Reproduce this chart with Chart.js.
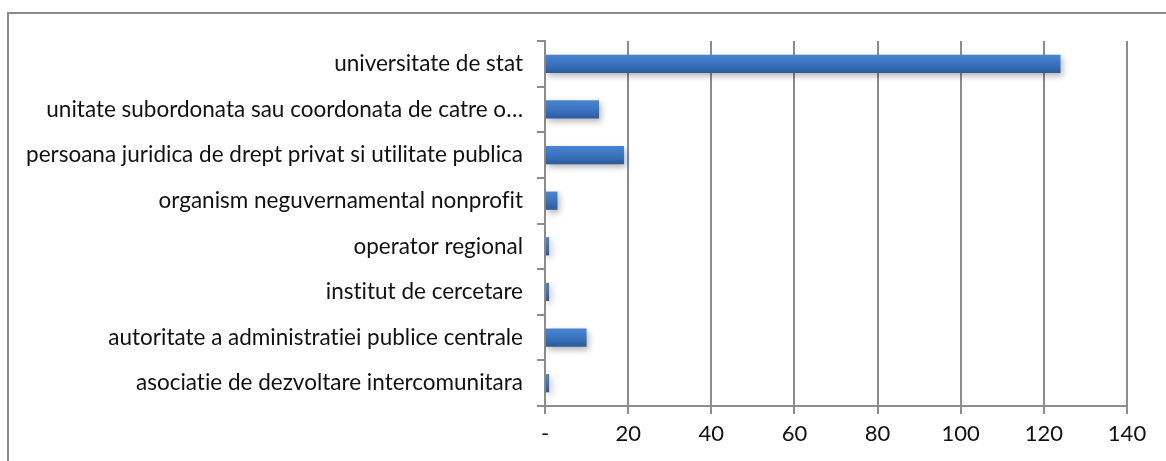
<!DOCTYPE html>
<html>
<head>
<meta charset="utf-8">
<script src="https://cdn.jsdelivr.net/npm/chart.js@4/dist/chart.umd.min.js"></script>
<style>
html,body{margin:0;padding:0;background:#fff;}
#wrap{position:relative;width:1166px;height:461px;overflow:hidden;}
#frame{position:absolute;left:7px;top:12px;width:1200px;height:500px;border-left:2px solid #8a8a8a;border-top:2px solid #8a8a8a;box-sizing:border-box;}
canvas{position:absolute;left:0;top:0;}
</style>
</head>
<body>
<div id="wrap">
<div id="frame"></div>
<canvas id="c" width="1166" height="461"></canvas>
</div>
<script>
const categories = [
  "universitate de stat",
  "unitate subordonata sau coordonata de catre o…",
  "persoana juridica de drept privat si utilitate publica",
  "organism neguvernamental nonprofit",
  "operator regional",
  "institut de cercetare",
  "autoritate a administratiei publice centrale",
  "asociatie de dezvoltare intercomunitara"
];
const values = [124, 13, 19, 3, 1, 1, 10, 1];
const xTicks = [0, 20, 40, 60, 80, 100, 120, 140];
const xTickLabels = ["-", "20", "40", "60", "80", "100", "120", "140"];

const FONT = "Lato, 'Open Sans', sans-serif";
const GRID = "#8c8c8c";

const textPlugin = {
  id: 'noLigatures',
  beforeDraw(chart) {
    try { chart.ctx.textRendering = 'optimizeSpeed'; } catch (e) {}
  }
};

const shadowPlugin = {
  id: 'barShadow',
  beforeDatasetDraw(chart) {
    const ctx = chart.ctx;
    ctx.save();
    ctx.shadowColor = 'rgba(0,0,0,0.3)';
    ctx.shadowBlur = 6;
    ctx.shadowOffsetX = 2;
    ctx.shadowOffsetY = 3;
  },
  afterDatasetDraw(chart) {
    chart.ctx.restore();
  }
};

function barGradient(context) {
  const chart = context.chart;
  const ys = chart.scales && chart.scales.y;
  if (!ys || !chart.chartArea || context.dataIndex === undefined) return '#3a74c0';
  const center = ys.getPixelForValue(context.dataIndex);
  const h = (chart.chartArea.bottom - chart.chartArea.top) / categories.length * 0.4;
  if (!isFinite(center) || !isFinite(h)) return '#3a74c0';
  const top = center - h / 2;
  const g = chart.ctx.createLinearGradient(0, top, 0, top + h);
  g.addColorStop(0, '#4985d2');
  g.addColorStop(0.5, '#3a74c0');
  g.addColorStop(1, '#2b5c9c');
  return g;
}

new Chart(document.getElementById('c'), {
  type: 'bar',
  data: {
    labels: categories,
    datasets: [{
      data: values,
      backgroundColor: barGradient,
      borderWidth: 0,
      categoryPercentage: 1.0,
      barPercentage: 0.4
    }]
  },
  plugins: [textPlugin, shadowPlugin],
  options: {
    indexAxis: 'y',
    responsive: false,
    animation: false,
    layout: { padding: { left: 0, right: 39, top: 41, bottom: 0 } },
    plugins: { legend: { display: false }, tooltip: { enabled: false } },
    scales: {
      x: {
        min: 0, max: 140,
        afterBuildTicks(scale) { scale.ticks = xTicks.map(v => ({ value: v })); },
        afterFit(scale) { scale.height = 55; },
        ticks: {
          callback(value) { const i = xTicks.indexOf(value); return i >= 0 ? xTickLabels[i] : ''; },
          font: { family: FONT, size: 22 },
          color: '#111',
          padding: 7,
          maxRotation: 0
        },
        grid: { color: GRID, lineWidth: 2, tickLength: 8, drawOnChartArea: true },
        border: { color: GRID, width: 2 }
      },
      y: {
        afterFit(scale) { scale.width = 545; },
        ticks: {
          font: { family: FONT, size: 22.5 },
          color: '#111',
          padding: 14,
          autoSkip: false
        },
        grid: { color: GRID, lineWidth: 2, tickLength: 8, drawOnChartArea: false, offset: true },
        border: { color: GRID, width: 2 }
      }
    }
  }
});
</script>
</body>
</html>
